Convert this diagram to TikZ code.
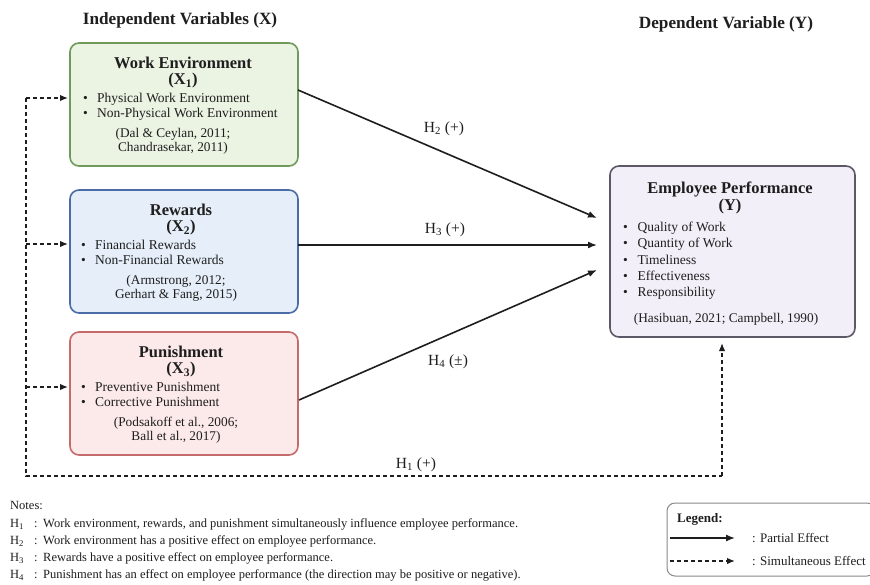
\documentclass[tikz,border=0pt]{standalone}
\usepackage{fontspec}
\setmainfont{Liberation Serif}
\usetikzlibrary{arrows.meta,calc}
\definecolor{gfill}{HTML}{EBF3E3}
\definecolor{gline}{HTML}{6F9A5A}
\definecolor{bfill}{HTML}{E6EEF9}
\definecolor{bline}{HTML}{4A6DA6}
\definecolor{rfill}{HTML}{FCE9E9}
\definecolor{rline}{HTML}{C56B6B}
\definecolor{pfill}{HTML}{F2EFF8}
\definecolor{pline}{HTML}{5C5868}
\definecolor{txt}{HTML}{1E1E1E}
\definecolor{lgline}{HTML}{8A8A8A}
\begin{document}
\begin{tikzpicture}[x=1pt,y=-1pt,
  box/.style={draw, rounded corners=9pt, line width=1.6pt, inner sep=0pt, outer sep=0pt},
  ttl/.style={font=\fontsize{16.5}{19}\selectfont\bfseries, anchor=base, inner sep=0pt, text=txt},
  hd/.style={font=\fontsize{17.2}{20}\selectfont\bfseries, anchor=base, inner sep=0pt, text=txt},
  bul/.style={font=\fontsize{13.5}{16}\selectfont, anchor=base west, inner sep=0pt, text=txt},
  cit/.style={font=\fontsize{13.3}{15}\selectfont, anchor=base, inner sep=0pt, text=txt},
  hl/.style={font=\fontsize{15.5}{18}\selectfont, anchor=base, inner sep=0pt, text=txt},
  note/.style={font=\fontsize{12.5}{15}\selectfont, anchor=base west, inner sep=0pt, text=txt},
  lgt/.style={font=\fontsize{13}{15}\selectfont, anchor=base west, inner sep=0pt, text=txt},
  arr/.style={line width=1.6pt, draw=txt, -{Latex[length=9pt,width=7pt]}},
  dsh/.style={line width=1.4pt, draw=txt, dash pattern=on 4pt off 3pt},
  darr/.style={dsh, -{Latex[length=8pt,width=6.5pt]}},
]
\useasboundingbox (0,0) rectangle (870,584);
\fill[white] (0,0) rectangle (870,584);

% headings
\node[hd] (hx) at (180,24) {Independent Variables (X)};
\node[hd] (hy) at (726,28) {Dependent Variable (Y)};

% box 1
\node[box, fill=gfill, draw=gline, minimum width=228pt, minimum height=123pt] (x1) at (184,104.5) {};
\node[ttl] (x1t) at (183,68.3) {Work Environment};
\node[ttl] (x1s) at (183,84.8) {(X\textsubscript{1})};
\node[bul] (x1a) at (83,102.7) {\makebox[14pt][l]{\textbullet}Physical Work Environment};
\node[bul] (x1b) at (83,117.2) {\makebox[14pt][l]{\textbullet}Non-Physical Work Environment};
\node[cit] (x1c) at (173,137.6) {(Dal \& Ceylan, 2011;};
\node[cit] (x1d) at (173,151.8) {Chandrasekar, 2011)};

% box 2
\node[box, fill=bfill, draw=bline, minimum width=228pt, minimum height=123pt] (x2) at (184,251.5) {};
\node[ttl] (x2t) at (181,215.3) {Rewards};
\node[ttl] (x2s) at (181,231.8) {(X\textsubscript{2})};
\node[bul] (x2a) at (81,249.7) {\makebox[14pt][l]{\textbullet}Financial Rewards};
\node[bul] (x2b) at (81,264.2) {\makebox[14pt][l]{\textbullet}Non-Financial Rewards};
\node[cit] (x2c) at (176,284.6) {(Armstrong, 2012;};
\node[cit] (x2d) at (176,298.8) {Gerhart \& Fang, 2015)};

% box 3
\node[box, fill=rfill, draw=rline, minimum width=228pt, minimum height=123pt] (x3) at (184,393.5) {};
\node[ttl] (x3t) at (181,357.3) {Punishment};
\node[ttl] (x3s) at (181,373.8) {(X\textsubscript{3})};
\node[bul] (x3a) at (81,391.7) {\makebox[14pt][l]{\textbullet}Preventive Punishment};
\node[bul] (x3b) at (81,406.2) {\makebox[14pt][l]{\textbullet}Corrective Punishment};
\node[cit] (x3c) at (176,426.6) {(Podsakoff et al., 2006;};
\node[cit] (x3d) at (176,440.8) {Ball et al., 2017)};

% box Y
\node[box, fill=pfill, draw=pline, minimum width=245pt, minimum height=171pt] (y) at (732.5,251.5) {};
\node[ttl] (yt) at (730,193.8) {Employee Performance};
\node[ttl] (ys) at (730,210.3) {(Y)};
\node[bul] (ya) at (623,231.7) {\makebox[14.5pt][l]{\textbullet}Quality of Work};
\node[bul] (yb) at (623,247.95) {\makebox[14.5pt][l]{\textbullet}Quantity of Work};
\node[bul] (yc) at (623,264.2) {\makebox[14.5pt][l]{\textbullet}Timeliness};
\node[bul] (yd) at (623,280.45) {\makebox[14.5pt][l]{\textbullet}Effectiveness};
\node[bul] (ye) at (623,296.7) {\makebox[14.5pt][l]{\textbullet}Responsibility};
\node[cit] (yf) at (726,322.6) {(Hasibuan, 2021; Campbell, 1990)};

% partial effect arrows
\coordinate (t1) at ($(y.west)+(-13,-33.5)$);
\coordinate (t2) at ($(y.west)+(-13,-6.5)$);
\coordinate (t3) at ($(y.west)+(-13,18.5)$);
\draw[arr] ($(x1.north east)+(0,47)$) -- (t1);
\draw[arr] ($(x2.east)+(0,-6.5)$) -- (t2);
\draw[arr] ($(x3.east)+(1,6.5)$) -- (t3);
\node[hl] (h2) at (444,132.5) {H\textsubscript{2} (+)};
\node[hl] (h3) at (445,233.5) {H\textsubscript{3} (+)};
\node[hl] (h4) at (448,365.5) {H\textsubscript{4} (±)};

% simultaneous effect (dashed)
\coordinate (l1) at (26,98);
\coordinate (l2) at (26,244);
\coordinate (l3) at (26,387);
\coordinate (lb) at (26,476);
\coordinate (rb) at (722,476);
\draw[dsh] (l1) -- (lb) -- (rb);
\draw[darr, shorten >=2pt] (l1) -- (l1 -| x1.west);
\draw[darr, shorten >=2pt] (l2) -- (l2 -| x2.west);
\draw[darr, shorten >=2pt] (l3) -- (l3 -| x3.west);
\draw[darr, shorten >=6pt] (rb) -- (rb |- y.south);
\node[hl] (h1) at (416,468) {H\textsubscript{1} (+)};

% notes
\node[note] (nt) at (10,509.4) {Notes:};
\node[note] (n1h) at (10,527.4) {H\textsubscript{1}};
\node[note] (n1c) at (34,527.4) {:};
\node[note] (n1) at (43,527.4) {Work environment, rewards, and punishment simultaneously influence employee performance.};
\node[note] (n2h) at (10,544.4) {H\textsubscript{2}};
\node[note] (n2c) at (34,544.4) {:};
\node[note] (n2) at (43,544.4) {Work environment has a positive effect on employee performance.};
\node[note] (n3h) at (10,561.4) {H\textsubscript{3}};
\node[note] (n3c) at (34,561.4) {:};
\node[note] (n3) at (43,561.4) {Rewards have a positive effect on employee performance.};
\node[note] (n4h) at (10,578.4) {H\textsubscript{4}};
\node[note] (n4c) at (34,578.4) {:};
\node[note] (n4) at (43,578.4) {Punishment has an effect on employee performance (the direction may be positive or negative).};

% legend
\node[draw=lgline, rounded corners=8pt, line width=1pt, minimum width=208pt, minimum height=73pt, inner sep=0pt] (lg) at (771,539.5) {};
\node[lgt, font=\fontsize{13}{15}\selectfont\bfseries] (lgt) at (677,522.6) {Legend:};
\coordinate (la1) at (670,538);
\coordinate (la2) at (735,538);
\coordinate (lb1) at (670,561);
\coordinate (lb2) at (735,561);
\draw[arr, line width=1.4pt] (la1) -- (la2);
\draw[darr] (lb1) -- (lb2);
\node[lgt] (lp) at (752,542.6) {: Partial Effect};
\node[lgt] (ls) at (752,565.6) {: Simultaneous Effect};
\end{tikzpicture}
\end{document}
